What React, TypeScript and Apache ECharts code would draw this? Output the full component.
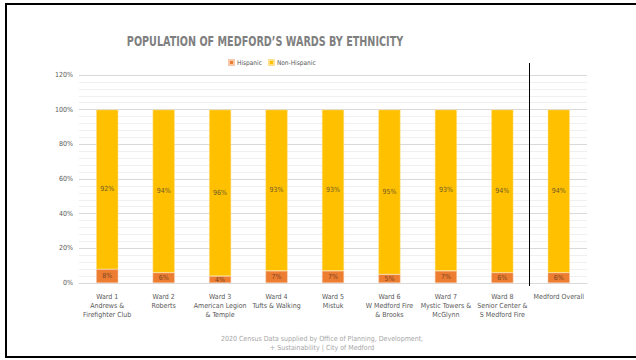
import React, { useEffect, useRef } from "react";
import * as echarts from "echarts";

const categories = [
  "Ward 1\nAndrews &\nFirefighter Club",
  "Ward 2\nRoberts",
  "Ward 3\nAmerican Legion\n& Temple",
  "Ward 4\nTufts & Walking",
  "Ward 5\nMistuk",
  "Ward 6\nW Medford Fire\n& Brooks",
  "Ward 7\nMystic Towers &\nMcGlynn",
  "Ward 8\nSenior Center &\nS Medford Fire",
  "Medford Overall",
];
const hispanic = [8, 6, 4, 7, 7, 5, 7, 6, 6];
const nonHispanic = [92, 94, 96, 93, 93, 95, 93, 94, 94];
const titleText = "POPULATION OF MEDFORD\u2019S WARDS BY ETHNICITY";
const footerText = "2020 Census Data supplied by Office of Planning, Development,\n+ Sustainability | City of Medford";

const FONT = "'DejaVu Sans Condensed', sans-serif";

export default function App() {
  const ref = useRef<HTMLDivElement>(null);
  useEffect(() => {
    if (!ref.current) return;
    const chart = echarts.init(ref.current, undefined, { renderer: "svg" });
    chart.setOption({
      animation: false,
      backgroundColor: "#ffffff",
      textStyle: { fontFamily: FONT },
      legend: {
        data: ["Hispanic", "Non-Hispanic"],
        left: 228,
        top: 59,
        padding: 0,
        itemWidth: 5,
        itemHeight: 5,
        itemGap: 6,
        icon: "rect",
        textStyle: { fontFamily: FONT, fontSize: 6.5, color: "#595959", padding: [0, 0, 0, -2] },
      },
      grid: { left: 79, right: 49, top: 75, bottom: 77, containLabel: false },
      xAxis: {
        type: "category",
        data: categories,
        axisLine: { lineStyle: { color: "#d9d9d9", width: 1 } },
        axisTick: { show: false },
        axisLabel: {
          interval: 0,
          fontFamily: FONT,
          fontSize: 7,
          color: "#595959",
          lineHeight: 9,
          margin: 9,
        },
      },
      yAxis: {
        type: "value",
        min: 0,
        max: 120,
        interval: 20,
        axisLine: { show: false },
        axisTick: { show: false },
        axisLabel: {
          formatter: "{value}%",
          fontFamily: FONT,
          fontSize: 7,
          color: "#595959",
          margin: 6,
        },
        splitLine: { lineStyle: { color: "#d9d9d9", width: 1 } },
        minorTick: { show: false, splitNumber: 5 },
        minorSplitLine: { show: true, lineStyle: { color: "#f0f0f0", width: 1 } },
      },
      series: [
        {
          name: "Hispanic",
          type: "bar",
          stack: "total",
          data: hispanic,
          barWidth: "39%",
          itemStyle: { color: "#ED7D31", borderColor: "#f7c9a8", borderWidth: 0.5 },
          label: {
            show: true,
            position: "inside",
            formatter: "{c}%",
            fontFamily: FONT,
            fontSize: 7,
            color: "#7a4526",
          },
        },
        {
          name: "Non-Hispanic",
          type: "bar",
          stack: "total",
          data: nonHispanic,
          barWidth: "39%",
          itemStyle: { color: "#FFC000", borderColor: "#ffe08a", borderWidth: 0.5 },
          label: {
            show: true,
            position: "inside",
            formatter: "{c}%",
            fontFamily: FONT,
            fontSize: 7,
            color: "#6e5a2a",
          },
        },
      ],
      graphic: [
        {
          type: "text",
          x: 265,
          y: 41,
          scaleX: 0.765,
          style: {
            text: titleText,
            fontFamily: FONT,
            fontSize: 14,
            fontWeight: "bold",
            fill: "#7f7f7f",
            align: "center",
            verticalAlign: "middle",
          },
          z: 100,
        },
        {
          type: "rect",
          shape: { x: 6, y: 4, width: 640, height: 353 },
          style: { fill: "none", stroke: "#000000", lineWidth: 2 },
          z: 100,
        },
        {
          type: "line",
          shape: { x1: 529.5, y1: 63, x2: 529.5, y2: 286 },
          style: { stroke: "#000000", lineWidth: 1 },
          z: 100,
        },
        {
          type: "text",
          x: 322,
          y: 335,
          style: {
            text: footerText,
            fontFamily: FONT,
            fontSize: 7,
            fill: "#a6a6a6",
            align: "center",
            lineHeight: 8.5,
          },
          z: 100,
        },
      ],
    });
    return () => chart.dispose();
  }, []);
  return (
    <div style={{ position: "fixed", left: 0, top: 0, width: 636, height: 360 }}>
      <div ref={ref} style={{ width: 636, height: 360 }} />
    </div>
  );
}
